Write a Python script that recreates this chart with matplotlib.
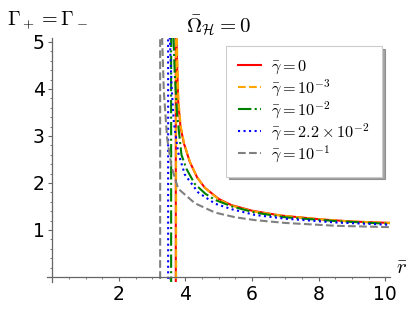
import numpy as np
import matplotlib
matplotlib.use("Agg")
import matplotlib.pyplot as plt
from matplotlib.ticker import MultipleLocator

plt.rcParams["mathtext.fontset"] = "cm"

# ── data (r̄, Γ) ────────────────────────────────────────────────────────
# pole position of each curve (vertical jump), then the right-hand branch
pole_red = 3.71
r_red = [3.73, 3.75, 3.78, 3.85, 3.95, 4.13, 4.35, 4.58, 5.0, 5.38, 6.0, 6.84, 8.0, 9.0, 10.15]
g_red = [5.1, 4.5, 3.75, 3.2, 2.85, 2.45, 2.12, 1.9, 1.66, 1.53, 1.41, 1.31, 1.23, 1.18, 1.15]

pole_orange = 3.72
r_orange = [3.74, 3.76, 3.79, 3.86, 3.96, 4.14, 4.36, 4.59, 5.0, 5.38, 6.0, 6.84, 8.0, 9.0, 10.15]
g_orange = [5.1, 4.5, 3.75, 3.2, 2.84, 2.44, 2.11, 1.89, 1.65, 1.52, 1.40, 1.31, 1.23, 1.18, 1.15]

pole_green = 3.57
r_green = [3.64, 3.68, 3.75, 3.88, 4.03, 4.28, 4.6, 4.89, 5.4, 6.09, 7.0, 8.5, 10.15]
g_green = [5.1, 4.3, 3.45, 2.6, 2.3, 1.98, 1.77, 1.64, 1.5, 1.37, 1.27, 1.19, 1.13]

pole_blue = 3.48
r_blue = [3.53, 3.58, 3.65, 3.78, 3.98, 4.38, 4.89, 5.4, 6.09, 7.0, 8.5, 10.15]
g_blue = [5.1, 4.1, 3.3, 2.65, 2.18, 1.8, 1.56, 1.44, 1.32, 1.24, 1.16, 1.11]

pole_gray = 3.24
r_gray = [3.30, 3.35, 3.45, 3.58, 3.78, 4.28, 4.89, 5.5, 6.09, 7.0, 8.5, 10.15]
g_gray = [5.1, 3.95, 2.95, 2.35, 1.88, 1.57, 1.37, 1.27, 1.21, 1.15, 1.09, 1.06]

labels = [r"$\bar{\gamma} = 0$", r"$\bar{\gamma} = 10^{-3}$", r"$\bar{\gamma} = 10^{-2}$",
          r"$\bar{\gamma} = 2.2\times 10^{-2}$", r"$\bar{\gamma} = 10^{-1}$"]

series = [
    (pole_red, r_red, g_red, "red", "-"),
    (pole_orange, r_orange, g_orange, "orange", "--"),
    (pole_green, r_green, g_green, "green", "-."),
    (pole_blue, r_blue, g_blue, "blue", ":"),
    (pole_gray, r_gray, g_gray, "gray", "--"),
]

# ── figure ────────────────────────────────────────────────────────────────
fig = plt.figure(figsize=(4.15, 3.11), dpi=100)
ax = fig.add_axes([0.1123, 0.0942, 0.828, 0.783])

for (pole, rr, gg, col, ls), lab in zip(series, labels):
    # the jump through the pole shows up as a vertical line, as in the original
    xs = [pole, pole, np.nan] + rr
    ys = [-1.0, 6.0, np.nan] + gg
    ax.plot(xs, ys, color=col, linestyle=ls, linewidth=1.5, label=lab)

ax.set_xlim(-0.17, 10.15)
ax.set_ylim(-0.1, 5.08)

for side in ["top", "right"]:
    ax.spines[side].set_visible(False)
ax.spines["left"].set_position(("data", 0))
ax.spines["bottom"].set_position(("data", 0))
for side in ["left", "bottom"]:
    ax.spines[side].set_color("0.4")
    ax.spines[side].set_linewidth(0.9)

ax.xaxis.set_minor_locator(MultipleLocator(0.5))
ax.yaxis.set_minor_locator(MultipleLocator(0.2))
ax.set_xticks([2, 4, 6, 8, 10])
ax.set_yticks([1, 2, 3, 4, 5])
ax.tick_params(which="major", length=3, width=0.8, color="0.4", labelsize=13.5, pad=2.5)
ax.tick_params(which="minor", length=1.5, width=0.6, color="0.4")

leg = ax.legend(loc="upper right", bbox_to_anchor=(0.920, 0.852),
                bbox_transform=fig.transFigure, borderaxespad=0, fontsize=11.7,
                handlelength=1.4, handletextpad=0.6, labelspacing=0.08,
                borderpad=0.75, fancybox=False, shadow=True, framealpha=1)
leg.get_frame().set_edgecolor("0.8")
leg.get_frame().set_linewidth(0.8)
# a little extra room on the left, as in the original box
leg._legend_box.align = "left"
leg._legend_handle_box.sep = 0

fig.text(0.017, 0.92, r"$\Gamma_+ = \Gamma_-$", fontsize=14.5, va="baseline", ha="left")
fig.text(0.5265, 0.897, r"$\bar{\Omega}_{\mathcal{H}} = 0$", fontsize=15, va="baseline", ha="center")
fig.text(0.954, 0.119, r"$\bar{r}$", fontsize=15, va="baseline", ha="left")

fig.savefig("out.png", dpi=100)
